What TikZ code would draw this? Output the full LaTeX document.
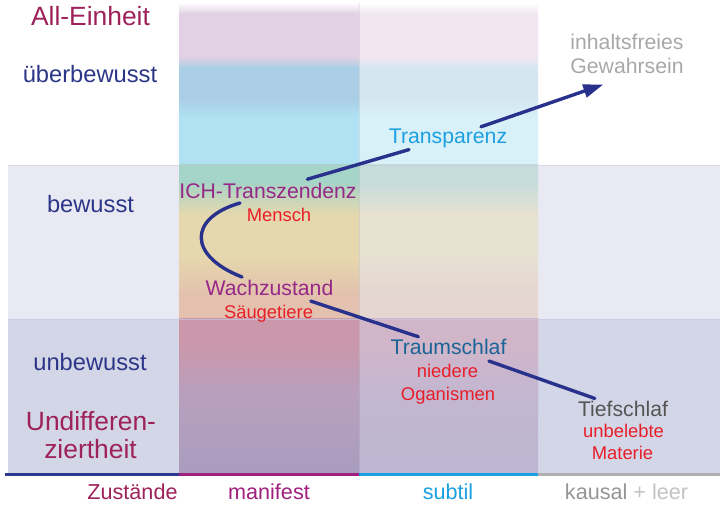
\documentclass[tikz,border=0pt]{standalone}
\usepackage{fontspec}
\setmainfont{Liberation Sans}
\usetikzlibrary{arrows.meta}

\definecolor{colMaroon}{RGB}{158,34,90}
\definecolor{colNavy}{RGB}{44,54,136}
\definecolor{colPurp}{RGB}{150,40,135}
\definecolor{colRed}{RGB}{232,30,40}
\definecolor{colCyan}{RGB}{28,160,224}
\definecolor{colTraum}{RGB}{26,100,150}
\definecolor{colTief}{RGB}{85,85,85}
\definecolor{colGrayA}{RGB}{168,168,168}
\definecolor{colGrayB}{RGB}{150,150,150}
\definecolor{colGrayC}{RGB}{195,195,195}
\definecolor{colArrow}{RGB}{40,50,140}
\definecolor{colBandA}{RGB}{233,233,243}
\definecolor{colBandB}{RGB}{211,214,231}
\definecolor{colBandLine}{RGB}{197,201,222}
\definecolor{colAxNavy}{RGB}{43,57,144}
\definecolor{colAxMag}{RGB}{160,32,127}
\definecolor{colAxCyan}{RGB}{27,161,226}
\definecolor{colAxGray}{RGB}{175,175,175}
% manifest column
\definecolor{mA}{RGB}{226,208,228}
\definecolor{mB}{RGB}{170,206,229}
\definecolor{mC}{RGB}{176,226,243}
\definecolor{mD}{RGB}{165,212,200}
\definecolor{mE}{RGB}{230,216,174}
\definecolor{mF}{RGB}{227,193,174}
\definecolor{mG}{RGB}{203,151,170}
\definecolor{mH}{RGB}{184,160,190}
\definecolor{mI}{RGB}{169,156,190}
% subtil column
\definecolor{sA}{RGB}{242,230,240}
\definecolor{sB}{RGB}{213,230,241}
\definecolor{sC}{RGB}{216,240,248}
\definecolor{sD}{RGB}{196,220,218}
\definecolor{sE}{RGB}{231,225,210}
\definecolor{sF}{RGB}{229,214,210}
\definecolor{sG}{RGB}{209,182,202}
\definecolor{sH}{RGB}{195,182,209}
\definecolor{sI}{RGB}{189,183,211}

\newcommand\fBig{\fontsize{26.4}{29}\selectfont}
\newcommand\fLeft{\fontsize{23.7}{27}\selectfont}
\newcommand\fMain{\fontsize{21.2}{24}\selectfont}
\newcommand\fSub{\fontsize{18.4}{22}\selectfont}
\newcommand\fAxis{\fontsize{21.6}{24}\selectfont}

\tikzset{
  lbl/.style={anchor=base, inner sep=0pt},
  conn/.style={draw=colArrow, line width=3.4pt, line cap=round},
  axseg/.style={line width=2.6pt},
}

\begin{document}
\begin{tikzpicture}[x=1pt,y=-1pt]
\useasboundingbox (0,0) rectangle (722,505);
\fill[white] (0,0) rectangle (722,505);

% row bands
\fill[colBandA] (8,165) rectangle (720,319);
\fill[colBandB] (8,319) rectangle (720,474);

% manifest column
\foreach \ya/\yb/\ca/\cb in {3/14/white/mA, 14/57/mA/mA, 57/68/mA/mB, 68/98/mB/mB, 98/118/mB/mC, 118/165/mC/mC,
  165/182/mD/mD, 182/215/mD/mE, 215/255/mE/mE, 255/295/mE/mF, 295/319/mF/mF,
  319/345/mG/mG, 345/395/mG/mH, 395/474/mH/mI}
  {\shade[top color=\ca, bottom color=\cb] (179,\ya-0.4) rectangle (359,\yb);}
% subtil column
\foreach \ya/\yb/\ca/\cb in {3/14/white/sA, 14/57/sA/sA, 57/68/sA/sB, 68/98/sB/sB, 98/118/sB/sC, 118/165/sC/sC,
  165/182/sD/sD, 182/215/sD/sE, 215/255/sE/sE, 255/295/sE/sF, 295/319/sF/sF,
  319/345/sG/sG, 345/395/sG/sH, 395/474/sH/sI}
  {\shade[top color=\ca, bottom color=\cb] (359,\ya-0.4) rectangle (538,\yb);}

\draw[black, opacity=0.07, line width=1pt] (359,3) -- (359,474);
\draw[colBandLine, line width=0.8pt, opacity=0.7] (8,319) -- (720,319);
\draw[colBandLine, line width=0.6pt, opacity=0.5] (8,165) -- (720,165);

% axis
\draw[axseg, colAxNavy] (5,474.5) -- (179,474.5);
\draw[axseg, colAxMag] (179,474.5) -- (359,474.5);
\draw[axseg, colAxCyan] (359,474.5) -- (538,474.5);
\draw[axseg, colAxGray] (538,474.5) -- (720,474.5);

% left labels
\node[lbl, colMaroon, font=\fBig] (allein) at (90.5,26) {All-Einheit};
\node[lbl, colNavy, font=\fLeft] (ueber) at (90,83) {überbewusst};
\node[lbl, colNavy, font=\fLeft] (bew) at (90.5,212.5) {bewusst};
\node[lbl, colNavy, font=\fLeft] (unbew) at (90,370) {unbewusst};
\node[lbl, colMaroon, font=\fBig] (undiffA) at (91,430.5) {Undifferen-};
\node[lbl, colMaroon, font=\fBig] (undiffB) at (90.5,458.3) {ziertheit};

% axis labels
\node[lbl, colMaroon, font=\fAxis] (zust) at (132.5,499.5) {Zustände};
\node[lbl, colAxMag, font=\fAxis] (manif) at (269,499.5) {manifest};
\node[lbl, colAxCyan, font=\fAxis] (subt) at (448,499.5) {subtil};
\node[lbl, colGrayB, font=\fAxis] (kaus) at (626.5,499.5) {kausal \textcolor{colGrayC}{+ leer}};

% states
\node[lbl, colPurp, font=\fMain, inner sep=3.5pt] (ich) at (268,198.3) {ICH-Transzendenz};
\node[lbl, colRed, font=\fSub] (mensch) at (279,221.7) {Mensch};
\node[lbl, colPurp, font=\fMain, inner sep=5.7pt] (wach) at (269.5,295) {Wachzustand};
\node[lbl, colRed, font=\fSub] (saeug) at (268.5,318) {Säugetiere};
\node[lbl, colCyan, font=\fMain, inner sep=1.7pt] (transp) at (448,143.3) {Transparenz};
\node[lbl, colGrayA, font=\fMain] (gewA) at (627,50) {inhaltsfreies};
\node[lbl, colGrayA, font=\fMain] (gewB) at (627,74) {Gewahrsein};
\node[lbl, colTraum, font=\fMain, inner sep=2pt] (traum) at (448.5,354.3) {Traumschlaf};
\node[lbl, colRed, font=\fSub] (nied) at (447.5,377) {niedere};
\node[lbl, colRed, font=\fSub] (orga) at (448,400) {Oganismen};
\node[lbl, colTief, font=\fMain, inner sep=2pt] (tief) at (623,416) {Tiefschlaf};
\node[lbl, colRed, font=\fSub] (unbel) at (623.5,437.3) {unbelebte};
\node[lbl, colRed, font=\fSub] (mat) at (622.5,459) {Materie};

% connectors
\coordinate (tip) at (603.3,84.5);
\coordinate (cA) at (242,277);
\coordinate (cB) at (240,203);
\draw[conn] (cA) .. controls (188,256) and (188,218) .. (cB);
\draw[conn] (ich) -- (transp);
\draw[conn, -{Triangle[length=20pt,width=13pt]}] (transp) -- (tip);
\draw[conn] (wach) -- (traum);
\draw[conn, shorten <=13pt] (traum) -- (tief);
\end{tikzpicture}
\end{document}
